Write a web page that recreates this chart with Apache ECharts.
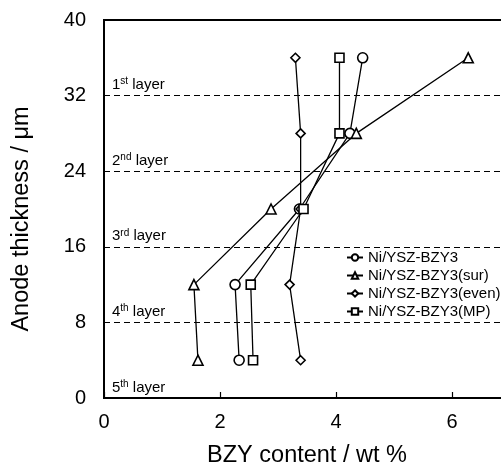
<!DOCTYPE html>
<html>
<head>
<meta charset="utf-8">
<script src="https://cdn.jsdelivr.net/npm/echarts@6/dist/echarts.min.js"></script>
<style>html,body{margin:0;padding:0;background:#fff}#c{width:501px;height:468px}</style>
</head>
<body>
<div id="c"></div>
<script>
// ---- data ----
var depths = [36, 28, 20, 12, 4];
var seriesNames = ['Ni/YSZ-BZY3', 'Ni/YSZ-BZY3(sur)', 'Ni/YSZ-BZY3(even)', 'Ni/YSZ-BZY3(MP)'];
var bzyPlain = [4.46, 4.24, 3.37, 2.26, 2.33];
var bzySur   = [6.28, 4.35, 2.88, 1.55, 1.62];
var bzyEven  = [3.30, 3.39, 3.39, 3.20, 3.39];
var bzyMP    = [4.06, 4.06, 3.44, 2.53, 2.57];
var layerBounds = [32, 24, 16, 8, 0];
var layerNums = ['1', '2', '3', '4', '5'];
var layerSups = ['st', 'nd', 'rd', 'th', 'th'];
var xTicks = [0, 2, 4, 6];
var yTicks = [0, 8, 16, 24, 32, 40];

var FONT = '"Liberation Sans", Arial, Helvetica, sans-serif';
function pairs(xs) { return xs.map(function (v, i) { return [v, depths[i]]; }); }

var symbols = ['circle', 'triangle', 'diamond', 'rect'];
var sizes = [10, 10, 9, 9];
var valueSets = [bzyPlain, bzySur, bzyEven, bzyMP];

var layerLines = layerBounds.map(function (b, i) {
  return {
    yAxis: b,
    name: layerNums[i],
    lineStyle: b === 0 ? { color: 'rgba(0,0,0,0)', width: 0 } : { color: '#000', type: [6, 4], width: 1.2 },
    label: {
      show: true,
      position: 'insideStartTop',
      distance: [8, 2],
      formatter: '{n|' + layerNums[i] + '}{s|' + layerSups[i] + '}{n| layer}',
      rich: {
        n: { fontSize: 15, fontFamily: FONT, color: '#000', lineHeight: 17 },
        s: { fontSize: 10, fontFamily: FONT, color: '#000', verticalAlign: 'top', lineHeight: 12 }
      }
    }
  };
});

var series = seriesNames.map(function (name, i) {
  var s = {
    name: name,
    type: 'line',
    data: pairs(valueSets[i]),
    symbol: symbols[i],
    symbolSize: sizes[i],
    showAllSymbol: true,
    lineStyle: { color: '#000', width: 1.3 },
    itemStyle: { color: '#fff', borderColor: '#000', borderWidth: 1.6 },
    emphasis: { disabled: true },
    z: 5
  };
  if (i === 0) {
    s.markLine = {
      silent: true,
      symbol: 'none',
      animation: false,
      z: 1,
      data: layerLines
    };
  }
  return s;
});

var chart = echarts.init(document.getElementById('c'), null, { renderer: 'canvas' });
chart.setOption({
  animation: false,
  backgroundColor: '#fff',
  textStyle: { fontFamily: FONT },
  grid: {
    left: 104, width: 406, top: 20, bottom: 70,
    outerBoundsMode: 'none', containLabel: false,
    show: true, borderColor: '#000', borderWidth: 2, backgroundColor: 'transparent'
  },
  legend: {
    orient: 'vertical',
    left: 341,
    top: 245,
    itemWidth: 16,
    itemHeight: 8,
    itemGap: 3,
    data: seriesNames,
    textStyle: { fontSize: 15, fontFamily: FONT, color: '#000' },
    selectedMode: false
  },
  xAxis: {
    type: 'value',
    min: 0, max: 7, interval: 2,
    name: 'BZY content / wt %',
    nameLocation: 'middle',
    nameGap: 46,
    nameTextStyle: { fontSize: 23.5, fontFamily: FONT, color: '#000' },
    axisLine: { show: true, lineStyle: { color: '#000', width: 2 } },
    axisTick: { show: true, inside: true, length: 6, lineStyle: { color: '#000', width: 1.2 } },
    axisLabel: {
      fontSize: 20, fontFamily: FONT, color: '#000', margin: 14, showMaxLabel: false,
      formatter: function (v) { return xTicks.indexOf(v) >= 0 ? String(v) : ''; }
    },
    splitLine: { show: false }
  },
  yAxis: {
    type: 'value',
    min: 0, max: 40, interval: 8,
    name: 'Anode thickness / μm',
    nameLocation: 'middle',
    nameGap: 70,
    nameTextStyle: { fontSize: 23.5, fontFamily: FONT, color: '#000', padding: [0, 20, 0, 0] },
    axisLine: { show: true, lineStyle: { color: '#000', width: 2 } },
    axisTick: { show: false },
    axisLabel: {
      fontSize: 20, fontFamily: FONT, color: '#000', margin: 18,
      formatter: function (v) { return yTicks.indexOf(v) >= 0 ? String(v) : ''; }
    },
    splitLine: { show: false }
  },
  series: series
});
</script>
</body>
</html>
